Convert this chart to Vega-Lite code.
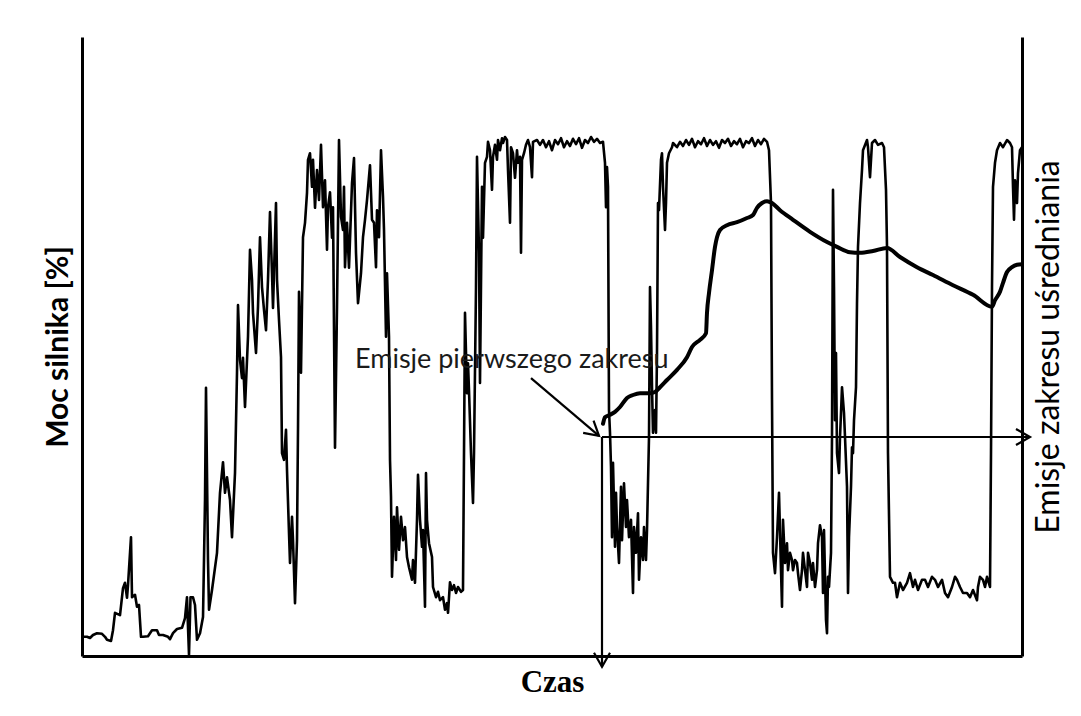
{
  "$schema": "https://vega.github.io/schema/vega-lite/v6.json",
  "width": 940,
  "height": 619,
  "autosize": {"type": "none"},
  "padding": {"left": 82, "top": 37, "right": 59, "bottom": 60},
  "background": "white",
  "config": {
    "view": {"stroke": null},
    "axis": {"ticks": false, "labels": false, "grid": false, "domainColor": "black", "domainWidth": 3, "titleColor": "black"}
  },
  "datasets": {
    "power": [
      {"t":0,"p":3.2},{"t":5,"p":3.2},{"t":8,"p":3.0},{"t":11,"p":3.5},{"t":15,"p":3.8},{"t":20,"p":3.7},{"t":23,"p":3.2},{"t":25,"p":2.7},{"t":29,"p":2.5},{"t":31,"p":4.3},{"t":33,"p":7.2},{"t":38,"p":6.8},{"t":41,"p":11.3},{"t":43,"p":12.2},{"t":45,"p":9.7},{"t":46,"p":11.8},{"t":49,"p":19.8},{"t":50,"p":9.8},{"t":53,"p":10.2},{"t":55,"p":8.2},{"t":57,"p":8.5},{"t":59,"p":3.2},{"t":61,"p":3.2},{"t":66,"p":3.3},{"t":70,"p":4.3},{"t":75,"p":4.3},{"t":77,"p":3.5},{"t":81,"p":3.5},{"t":86,"p":3.2},{"t":88,"p":2.8},{"t":91,"p":3.8},{"t":95,"p":4.5},{"t":100,"p":4.7},{"t":103,"p":6.3},{"t":105,"p":9.8},{"t":106,"p":4.8},{"t":107,"p":0.2},{"t":108.5,"p":9.8},{"t":111,"p":9.8},{"t":113,"p":8.5},{"t":115,"p":2.7},{"t":118,"p":3.8},{"t":121,"p":6.5},{"t":122,"p":16.0},{"t":123,"p":26.0},{"t":124,"p":44.7},{"t":126,"p":16.0},{"t":127,"p":7.7},{"t":130,"p":11.0},{"t":135,"p":17.2},{"t":138,"p":27.2},{"t":141,"p":32.3},{"t":143,"p":27.2},{"t":145,"p":29.8},{"t":148,"p":26.0},{"t":150,"p":19.8},{"t":153,"p":30.5},{"t":155,"p":47.2},{"t":156,"p":58.5},{"t":158,"p":49.3},{"t":160,"p":46.3},{"t":161,"p":49.7},{"t":163,"p":41.5},{"t":165,"p":49.3},{"t":166,"p":53.2},{"t":168,"p":67.7},{"t":170,"p":62.7},{"t":171,"p":57.2},{"t":174,"p":50.5},{"t":176,"p":58.2},{"t":178,"p":69.8},{"t":180,"p":61.5},{"t":182,"p":57.7},{"t":184,"p":54.3},{"t":186,"p":62.7},{"t":188,"p":74.0},{"t":190,"p":63.8},{"t":191,"p":58.0},{"t":194,"p":75.5},{"t":195,"p":62.7},{"t":197,"p":56.0},{"t":199,"p":49.8},{"t":200,"p":33.8},{"t":202,"p":32.7},{"t":204,"p":37.7},{"t":205,"p":31.0},{"t":207,"p":20.5},{"t":208,"p":15.5},{"t":210,"p":23.2},{"t":211,"p":19.3},{"t":213,"p":8.8},{"t":215,"p":19.3},{"t":216,"p":37.7},{"t":217,"p":60.7},{"t":219,"p":47.2},{"t":221,"p":69.8},{"t":223,"p":72.2},{"t":225,"p":77.2},{"t":226,"p":82.7},{"t":228,"p":83.8},{"t":230,"p":78.2},{"t":231,"p":82.7},{"t":233,"p":74.7},{"t":235,"p":81.0},{"t":237,"p":76.0},{"t":239,"p":85.2},{"t":241,"p":74.8},{"t":243,"p":79.3},{"t":245,"p":67.7},{"t":246,"p":74.8},{"t":248,"p":77.3},{"t":250,"p":69.7},{"t":251,"p":74.8},{"t":253,"p":34.7},{"t":255,"p":58.2},{"t":257,"p":86.0},{"t":259,"p":73.2},{"t":261,"p":71.0},{"t":262,"p":78.2},{"t":263,"p":64.8},{"t":265,"p":72.2},{"t":267,"p":64.7},{"t":270,"p":78.8},{"t":272,"p":83.0},{"t":274,"p":67.2},{"t":276,"p":58.8},{"t":279,"p":63.8},{"t":281,"p":69.8},{"t":283,"p":72.7},{"t":285,"p":76.0},{"t":288,"p":81.8},{"t":290,"p":72.7},{"t":292,"p":72.2},{"t":294,"p":64.8},{"t":295,"p":74.3},{"t":297,"p":69.8},{"t":299,"p":84.3},{"t":301,"p":76.5},{"t":302,"p":71.0},{"t":304,"p":53.2},{"t":305,"p":63.8},{"t":307,"p":53.2},{"t":308,"p":32.7},{"t":309,"p":26.5},{"t":310,"p":13.2},{"t":312,"p":23.2},{"t":314,"p":16.0},{"t":315,"p":24.8},{"t":317,"p":17.7},{"t":319,"p":23.2},{"t":321,"p":19.3},{"t":323,"p":21.5},{"t":325,"p":16.5},{"t":327,"p":14.8},{"t":330,"p":12.7},{"t":331,"p":16.0},{"t":333,"p":12.2},{"t":335,"p":22.7},{"t":336,"p":30.2},{"t":338,"p":22.7},{"t":340,"p":18.2},{"t":341,"p":21.0},{"t":343,"p":8.2},{"t":344,"p":30.5},{"t":345,"p":22.7},{"t":347,"p":18.8},{"t":350,"p":16.5},{"t":351,"p":11.5},{"t":354,"p":9.8},{"t":356,"p":10.7},{"t":358,"p":9.3},{"t":361,"p":9.8},{"t":363,"p":7.7},{"t":365,"p":8.8},{"t":366,"p":7.2},{"t":368,"p":12.3},{"t":370,"p":11.0},{"t":372,"p":11.8},{"t":374,"p":10.5},{"t":376,"p":11.5},{"t":379,"p":10.7},{"t":381,"p":11.0},{"t":382,"p":33.8},{"t":383,"p":57.2},{"t":385,"p":43.8},{"t":386,"p":48.8},{"t":387,"p":44.3},{"t":389,"p":33.8},{"t":391,"p":25.5},{"t":392,"p":33.8},{"t":394,"p":61.5},{"t":395,"p":83.2},{"t":397,"p":67.2},{"t":398,"p":45.5},{"t":400,"p":78.2},{"t":401,"p":69.7},{"t":403,"p":82.2},{"t":405,"p":83.2},{"t":406,"p":85.7},{"t":408,"p":84.3},{"t":410,"p":77.7},{"t":411,"p":83.2},{"t":413,"p":85.2},{"t":415,"p":82.7},{"t":416,"p":86.0},{"t":418,"p":84.3},{"t":420,"p":86.3},{"t":421,"p":85.5},{"t":423,"p":86.5},{"t":425,"p":86.0},{"t":426,"p":81.0},{"t":428,"p":72.2},{"t":429,"p":84.8},{"t":431,"p":83.8},{"t":433,"p":79.7},{"t":435,"p":84.3},{"t":436,"p":82.2},{"t":438,"p":83.2},{"t":439,"p":67.2},{"t":440,"p":82.7},{"t":442,"p":83.8},{"t":444,"p":85.2},{"t":446,"p":86.0},{"t":448,"p":84.8},{"t":450,"p":79.8},{"t":451,"p":85.7},{"t":455,"p":86.0},{"t":458,"p":85.2},{"t":461,"p":86.0},{"t":464,"p":84.8},{"t":467,"p":85.8},{"t":470,"p":84.3},{"t":473,"p":86.0},{"t":476,"p":85.3},{"t":479,"p":86.3},{"t":482,"p":84.8},{"t":485,"p":85.8},{"t":488,"p":85.0},{"t":491,"p":86.2},{"t":494,"p":85.3},{"t":497,"p":86.3},{"t":500,"p":84.7},{"t":503,"p":86.0},{"t":506,"p":85.5},{"t":509,"p":86.5},{"t":512,"p":85.7},{"t":515,"p":86.2},{"t":518,"p":85.5},{"t":521,"p":85.7},{"t":523,"p":82.2},{"t":524,"p":74.8},{"t":525,"p":81.5},{"t":526,"p":78.2},{"t":527,"p":41.0},{"t":528,"p":37.2},{"t":529,"p":31.5},{"t":530,"p":19.8},{"t":531,"p":32.2},{"t":533,"p":18.2},{"t":534,"p":27.2},{"t":535,"p":21.5},{"t":537,"p":15.5},{"t":539,"p":28.2},{"t":540,"p":19.3},{"t":542,"p":28.8},{"t":544,"p":21.5},{"t":545,"p":26.0},{"t":547,"p":19.8},{"t":549,"p":22.7},{"t":551,"p":10.5},{"t":552,"p":21.5},{"t":554,"p":17.2},{"t":556,"p":23.8},{"t":557,"p":12.7},{"t":559,"p":19.8},{"t":561,"p":16.0},{"t":562,"p":21.5},{"t":564,"p":16.0},{"t":565,"p":21.0},{"t":567,"p":36.5},{"t":568,"p":61.5},{"t":569,"p":54.8},{"t":570,"p":44.8},{"t":571,"p":37.2},{"t":573,"p":41.0},{"t":574,"p":37.2},{"t":575,"p":50.5},{"t":576,"p":75.5},{"t":577,"p":74.3},{"t":579,"p":82.7},{"t":580,"p":83.8},{"t":581,"p":78.2},{"t":583,"p":71.0},{"t":584,"p":75.5},{"t":585,"p":82.2},{"t":587,"p":83.8},{"t":590,"p":84.8},{"t":591,"p":85.5},{"t":595,"p":84.8},{"t":598,"p":85.7},{"t":601,"p":85.0},{"t":604,"p":86.0},{"t":607,"p":85.2},{"t":610,"p":86.2},{"t":613,"p":84.8},{"t":616,"p":85.8},{"t":619,"p":85.3},{"t":622,"p":86.3},{"t":625,"p":85.0},{"t":628,"p":86.0},{"t":631,"p":85.2},{"t":634,"p":85.8},{"t":637,"p":84.7},{"t":640,"p":86.0},{"t":643,"p":85.5},{"t":646,"p":86.2},{"t":649,"p":85.0},{"t":652,"p":85.8},{"t":655,"p":85.3},{"t":658,"p":86.2},{"t":661,"p":84.8},{"t":664,"p":85.8},{"t":667,"p":85.5},{"t":670,"p":86.3},{"t":673,"p":85.0},{"t":676,"p":86.0},{"t":679,"p":85.3},{"t":682,"p":86.2},{"t":685,"p":85.7},{"t":687,"p":84.3},{"t":689,"p":75.5},{"t":690,"p":42.7},{"t":691,"p":17.2},{"t":693,"p":13.8},{"t":695,"p":19.8},{"t":697,"p":27.2},{"t":699,"p":14.3},{"t":700,"p":8.2},{"t":701,"p":22.7},{"t":703,"p":15.5},{"t":705,"p":18.8},{"t":706,"p":14.3},{"t":708,"p":17.2},{"t":710,"p":16.0},{"t":711,"p":14.3},{"t":713,"p":16.0},{"t":715,"p":15.5},{"t":716,"p":13.8},{"t":718,"p":11.0},{"t":720,"p":14.3},{"t":721,"p":17.2},{"t":723,"p":14.3},{"t":725,"p":11.5},{"t":726,"p":17.2},{"t":728,"p":15.5},{"t":730,"p":12.7},{"t":731,"p":15.5},{"t":733,"p":11.5},{"t":735,"p":14.3},{"t":736,"p":18.8},{"t":738,"p":21.8},{"t":740,"p":19.8},{"t":741,"p":10.5},{"t":742,"p":21.0},{"t":744,"p":6.0},{"t":745,"p":3.8},{"t":746,"p":13.2},{"t":747,"p":11.5},{"t":749,"p":17.2},{"t":750,"p":36.5},{"t":751,"p":77.7},{"t":752,"p":61.5},{"t":753,"p":39.3},{"t":754,"p":50.5},{"t":755,"p":33.8},{"t":757,"p":30.5},{"t":758,"p":36.5},{"t":759,"p":40.5},{"t":760,"p":44.8},{"t":762,"p":40.5},{"t":763,"p":36.5},{"t":765,"p":28.2},{"t":766,"p":10.5},{"t":767,"p":19.8},{"t":769,"p":28.2},{"t":770,"p":34.8},{"t":771,"p":33.8},{"t":772,"p":39.3},{"t":774,"p":44.8},{"t":775,"p":58.8},{"t":776,"p":68.2},{"t":778,"p":75.5},{"t":780,"p":81.0},{"t":781,"p":84.3},{"t":785,"p":86.0},{"t":786,"p":84.8},{"t":788,"p":79.8},{"t":790,"p":85.5},{"t":793,"p":86.0},{"t":796,"p":85.2},{"t":800,"p":85.5},{"t":802,"p":84.8},{"t":804,"p":77.7},{"t":805,"p":68.2},{"t":806,"p":33.8},{"t":808,"p":13.2},{"t":811,"p":12.2},{"t":813,"p":12.2},{"t":815,"p":9.8},{"t":818,"p":12.2},{"t":821,"p":11.0},{"t":825,"p":12.2},{"t":828,"p":13.8},{"t":831,"p":11.5},{"t":833,"p":12.7},{"t":836,"p":11.0},{"t":840,"p":12.7},{"t":843,"p":12.7},{"t":846,"p":11.5},{"t":850,"p":13.2},{"t":853,"p":12.7},{"t":856,"p":11.5},{"t":860,"p":12.7},{"t":863,"p":10.5},{"t":866,"p":9.8},{"t":870,"p":11.5},{"t":873,"p":13.2},{"t":875,"p":12.7},{"t":878,"p":11.5},{"t":881,"p":10.5},{"t":885,"p":10.5},{"t":888,"p":9.8},{"t":891,"p":11.0},{"t":895,"p":9.3},{"t":896,"p":11.5},{"t":898,"p":13.2},{"t":901,"p":12.7},{"t":903,"p":11.5},{"t":905,"p":13.2},{"t":908,"p":11.5},{"t":909,"p":33.8},{"t":910,"p":61.5},{"t":911,"p":78.2},{"t":913,"p":82.2},{"t":915,"p":84.3},{"t":918,"p":85.5},{"t":921,"p":84.8},{"t":925,"p":86.0},{"t":928,"p":85.5},{"t":930,"p":84.8},{"t":931,"p":78.2},{"t":932,"p":72.7},{"t":933,"p":79.3},{"t":935,"p":75.5},{"t":936,"p":80.5},{"t":938,"p":84.3},{"t":940,"p":84.8}
    ],
    "avg": [
      {"t":521,"e":38.7},{"t":523,"e":39.8},{"t":528,"e":40.2},{"t":533,"e":40.7},{"t":538,"e":41.5},{"t":545,"e":43.0},{"t":551,"e":43.5},{"t":558,"e":43.8},{"t":568,"e":43.8},{"t":573,"e":44.0},{"t":578,"e":44.8},{"t":585,"e":46.0},{"t":595,"e":47.7},{"t":605,"e":49.8},{"t":610,"e":51.5},{"t":618,"e":52.7},{"t":624,"e":53.8},{"t":625,"e":57.2},{"t":627,"e":60.5},{"t":630,"e":64.3},{"t":633,"e":68.2},{"t":635,"e":69.8},{"t":638,"e":71.0},{"t":645,"e":71.8},{"t":655,"e":72.3},{"t":665,"e":73.0},{"t":671,"e":73.5},{"t":675,"e":74.7},{"t":680,"e":75.5},{"t":685,"e":75.8},{"t":690,"e":75.5},{"t":698,"e":74.3},{"t":711,"e":72.7},{"t":728,"e":70.7},{"t":745,"e":69.0},{"t":755,"e":68.2},{"t":768,"e":67.3},{"t":778,"e":67.2},{"t":791,"e":67.5},{"t":805,"e":68.0},{"t":818,"e":66.5},{"t":835,"e":64.8},{"t":851,"e":63.5},{"t":871,"e":61.8},{"t":891,"e":60.2},{"t":910,"e":58.2},{"t":913,"e":59.3},{"t":918,"e":60.7},{"t":921,"e":62.2},{"t":925,"e":64.0},{"t":930,"e":64.8},{"t":935,"e":65.2},{"t":940,"e":65.3}
    ],
    "arrows": [
      {"id":"down","t1":520,"p1":36.5,"t2":520,"p2":-1.8},
      {"id":"right","t1":520,"p1":36.5,"t2":948,"p2":36.5},
      {"id":"diag","t1":449,"p1":46.3,"t2":517,"p2":36.7}
    ],
    "label": [
      {"t":273,"p":48,"text":"Emisje pierwszego zakresu"}
    ]
  },
  "resolve": {"scale": {"y": "shared"}, "axis": {"y": "independent"}},
  "layer": [
    {
      "data": {"name": "power"},
      "mark": {"type": "line", "color": "black", "strokeWidth": 2.6, "strokeJoin": "round"},
      "encoding": {
        "x": {"field": "t", "type": "quantitative", "scale": {"domain": [0, 940], "nice": false, "zero": false},
              "axis": {"title": "Czas", "titleFont": "Liberation Serif", "titleFontWeight": "bold", "titleFontSize": 31, "titleX": 470, "titleY": 35, "titleAlign": "center", "titleBaseline": "alphabetic"}},
        "y": {"field": "p", "type": "quantitative", "scale": {"domain": [0, 103.17], "nice": false, "zero": false},
              "axis": {"orient": "left", "title": "Moc silnika [%]", "titleFont": "Lato", "titleFontWeight": "bold", "titleFontSize": 30, "titleAngle": 270, "titleX": -24, "titleY": 309.5, "titleAlign": "center", "titleBaseline": "middle"}}
      }
    },
    {
      "data": {"name": "avg"},
      "mark": {"type": "line", "color": "black", "strokeWidth": 4, "interpolate": "monotone", "strokeJoin": "round", "strokeCap": "round"},
      "encoding": {
        "x": {"field": "t", "type": "quantitative", "scale": {"domain": [0, 940], "nice": false, "zero": false}, "title": "Czas"},
        "y": {"field": "e", "type": "quantitative", "scale": {"domain": [0, 103.17], "nice": false, "zero": false},
              "axis": {"orient": "right", "title": "Emisje zakresu uśredniania", "titleFont": "Lato", "titleFontWeight": "normal", "titleFontSize": 32, "titleAngle": 270, "titleX": 26, "titleY": 309.5, "titleAlign": "center", "titleBaseline": "middle"}}
      }
    },
    {
      "data": {"name": "arrows"},
      "mark": {"type": "rule", "color": "black", "strokeWidth": 2.2},
      "encoding": {
        "x": {"field": "t1", "type": "quantitative", "scale": {"domain": [0, 940], "nice": false, "zero": false}, "title": "Czas"},
        "x2": {"field": "t2"},
        "y": {"field": "p1", "type": "quantitative", "scale": {"domain": [0, 103.17], "nice": false, "zero": false}, "axis": null},
        "y2": {"field": "p2"}
      }
    },
    {
      "data": {"name": "arrows"},
      "transform": [{"filter": "datum.id === 'down'"}],
      "mark": {"type": "point", "shape": "M-1.75,-1L0,0L-1.75,1", "filled": false, "color": "black", "strokeWidth": 2.2, "size": 256, "opacity": 1, "angle": 90},
      "encoding": {
        "x": {"field": "t2", "type": "quantitative", "scale": {"domain": [0, 940], "nice": false, "zero": false}, "title": "Czas"},
        "y": {"field": "p2", "type": "quantitative", "scale": {"domain": [0, 103.17], "nice": false, "zero": false}, "axis": null}
      }
    },
    {
      "data": {"name": "arrows"},
      "transform": [{"filter": "datum.id === 'right'"}],
      "mark": {"type": "point", "shape": "M-1.75,-1L0,0L-1.75,1", "filled": false, "color": "black", "strokeWidth": 2.2, "size": 256, "opacity": 1, "angle": 0},
      "encoding": {
        "x": {"field": "t2", "type": "quantitative", "scale": {"domain": [0, 940], "nice": false, "zero": false}, "title": "Czas"},
        "y": {"field": "p2", "type": "quantitative", "scale": {"domain": [0, 103.17], "nice": false, "zero": false}, "axis": null}
      }
    },
    {
      "data": {"name": "arrows"},
      "transform": [{"filter": "datum.id === 'diag'"}],
      "mark": {"type": "point", "shape": "M-1.75,-1L0,0L-1.75,1", "filled": false, "color": "black", "strokeWidth": 2.2, "size": 256, "opacity": 1, "angle": 40.5},
      "encoding": {
        "x": {"field": "t2", "type": "quantitative", "scale": {"domain": [0, 940], "nice": false, "zero": false}, "title": "Czas"},
        "y": {"field": "p2", "type": "quantitative", "scale": {"domain": [0, 103.17], "nice": false, "zero": false}, "axis": null}
      }
    },
    {
      "data": {"name": "label"},
      "mark": {"type": "text", "font": "Lato", "fontSize": 27, "color": "#1a1a1a", "align": "left", "baseline": "alphabetic"},
      "encoding": {
        "x": {"field": "t", "type": "quantitative", "scale": {"domain": [0, 940], "nice": false, "zero": false}, "title": "Czas"},
        "y": {"field": "p", "type": "quantitative", "scale": {"domain": [0, 103.17], "nice": false, "zero": false}, "axis": null},
        "text": {"field": "text"}
      }
    }
  ]
}
